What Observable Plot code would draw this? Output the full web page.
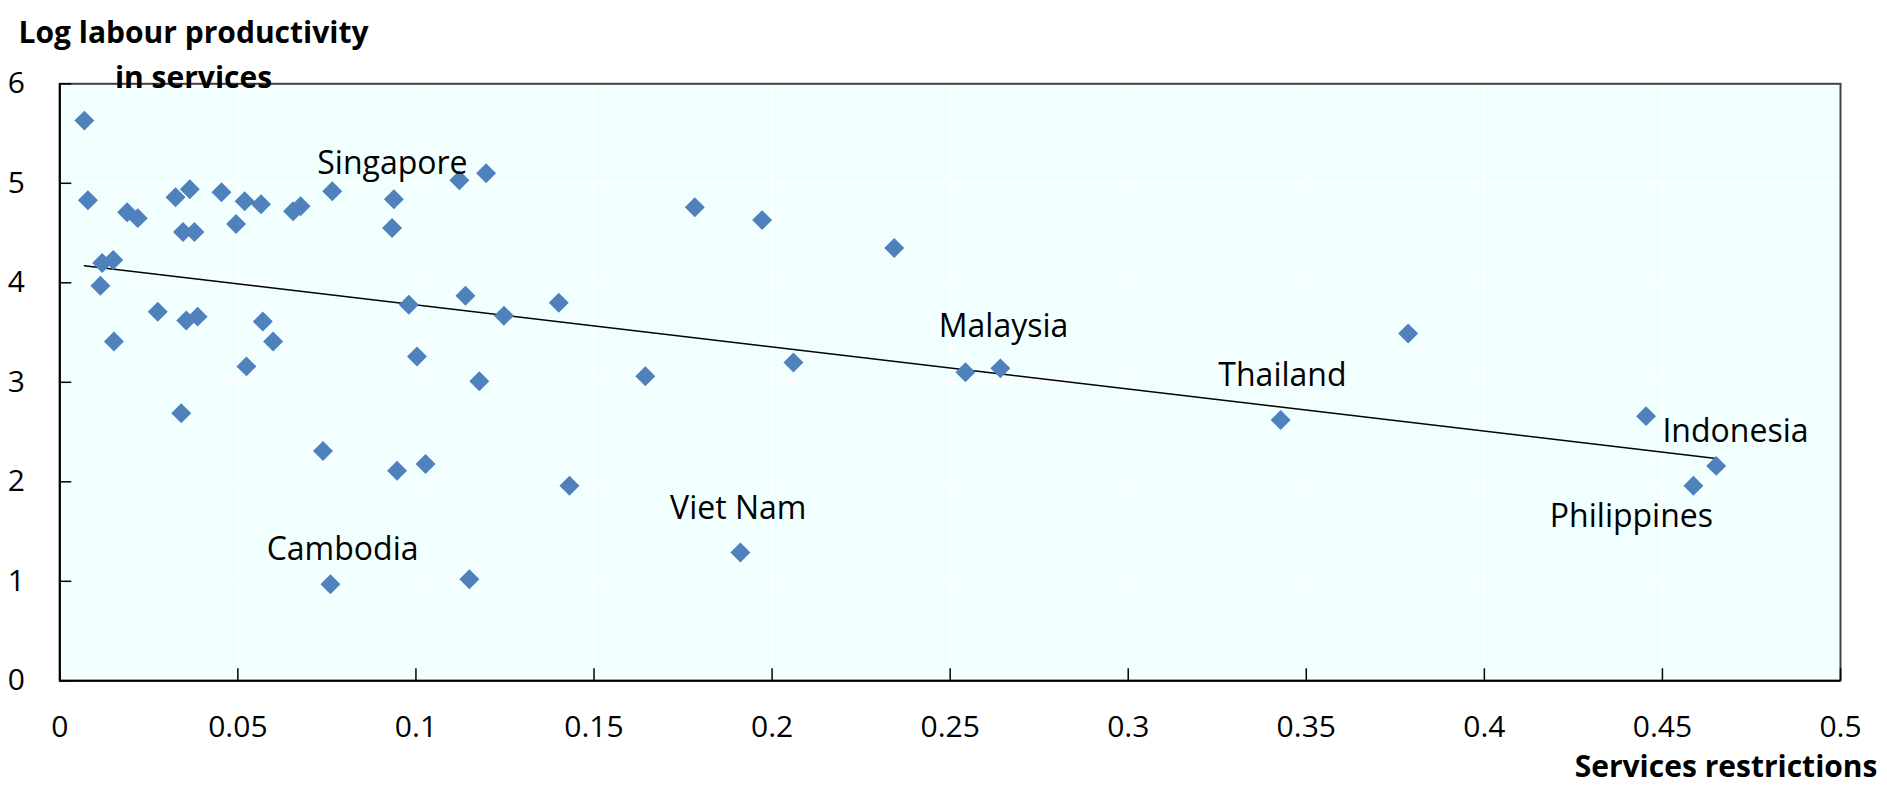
<!DOCTYPE html>
<html>
<head>
<meta charset="utf-8">
<script src="https://cdn.jsdelivr.net/npm/d3@7"></script>
<script src="https://cdn.jsdelivr.net/npm/@observablehq/plot@0.6"></script>
<style>
  html, body { margin: 0; padding: 0; background: #ffffff; }
</style>
</head>
<body>
<div id="chart"></div>
<script>
// Services restrictions index (x) for each economy
const restrictions = [
  0.0069, 0.0079, 0.0189, 0.0219, 0.0325, 0.0365, 0.0454, 0.0519, 0.0565, 0.0495,
  0.0346, 0.0378, 0.0655, 0.0676, 0.0765, 0.0938, 0.0933, 0.1122, 0.1197, 0.0119,
  0.0150, 0.0114, 0.0275, 0.0355, 0.0387, 0.0152, 0.0570, 0.0599, 0.0524, 0.0341,
  0.0980, 0.1139, 0.1003, 0.1178, 0.1247, 0.0739, 0.0947, 0.1027, 0.1431, 0.0760,
  0.1150, 0.1911, 0.1401, 0.1644, 0.1783, 0.1972, 0.2060, 0.2343, 0.2543, 0.2641,
  0.3428, 0.3786, 0.4454, 0.4651, 0.4587
];
// Log labour productivity in services (y)
const productivity = [
  5.63, 4.83, 4.71, 4.65, 4.86, 4.94, 4.91, 4.82, 4.79, 4.59,
  4.51, 4.51, 4.72, 4.77, 4.92, 4.84, 4.55, 5.03, 5.10, 4.20,
  4.23, 3.97, 3.71, 3.62, 3.66, 3.41, 3.61, 3.41, 3.16, 2.69,
  3.78, 3.87, 3.26, 3.01, 3.67, 2.31, 2.11, 2.18, 1.96, 0.97,
  1.02, 1.29, 3.80, 3.06, 4.76, 4.63, 3.20, 4.35, 3.10, 3.14,
  2.62, 3.49, 2.66, 2.16, 1.96
];
// Country annotations
const labelNames = ["Singapore", "Cambodia", "Viet Nam", "Malaysia", "Thailand", "Indonesia", "Philippines"];
const labelX = [0.0934, 0.0794, 0.1905, 0.265, 0.3433, 0.4705, 0.4413];
const labelY = [5.20, 1.32, 1.73, 3.56, 3.07, 2.50, 1.645];
// Axis ticks
const xTicks = [0, 0.05, 0.1, 0.15, 0.2, 0.25, 0.3, 0.35, 0.4, 0.45, 0.5];
const xTickLabels = ["0", "0.05", "0.1", "0.15", "0.2", "0.25", "0.3", "0.35", "0.4", "0.45", "0.5"];
const yTicks = [0, 1, 2, 3, 4, 5, 6];
const yTickLabels = ["0", "1", "2", "3", "4", "5", "6"];
const yTitle = "Log labour productivity\nin services";
const xTitle = "Services restrictions";

const points = restrictions.map((x, i) => ({x, y: productivity[i]}));
const labels = labelNames.map((name, i) => ({name, x: labelX[i], y: labelY[i]}));

const W = 1887, H = 786;
const mL = 59.3, mR = 47, mT = 83.3, mB = 105.7;

const chart = Plot.plot({
  width: W,
  height: H,
  marginLeft: mL,
  marginRight: mR,
  marginTop: mT,
  marginBottom: mB,
  style: {fontFamily: "'Open Sans', sans-serif", background: "#ffffff", color: "#000000", overflow: "visible"},
  x: {domain: [0, 0.5], ticks: xTicks, label: null},
  y: {domain: [0, 6], ticks: yTicks, label: null},
  marks: [
    Plot.frame({fill: "#f2ffff"}),
    Plot.gridX(xTicks, {stroke: "#ffffff", strokeOpacity: 1, strokeWidth: 1.5}),
    Plot.gridY(yTicks, {stroke: "#ffffff", strokeOpacity: 1, strokeWidth: 1.5}),
    Plot.frame({stroke: "#404040", strokeWidth: 2}),
    Plot.ruleX([0], {stroke: "#000000", strokeWidth: 2}),
    Plot.ruleY([0], {stroke: "#000000", strokeWidth: 2}),
    // inward ticks
    Plot.axisX(xTicks, {anchor: "bottom", tickSize: -12, tickFormat: () => "", stroke: "#000000", strokeWidth: 1.5, label: null}),
    Plot.axisY(yTicks, {anchor: "left", tickSize: -12, tickFormat: () => "", stroke: "#000000", strokeWidth: 1.5, label: null}),
    // tick labels
    Plot.axisX(xTicks, {anchor: "bottom", tickSize: 0, tickPadding: 35, fontSize: 30,
      tickFormat: d => xTickLabels[xTicks.indexOf(d)], fill: "#000000", label: null}),
    Plot.axisY(yTicks, {anchor: "left", tickSize: 0, tickPadding: 35, fontSize: 30,
      tickFormat: d => yTickLabels[yTicks.indexOf(d)], fill: "#000000", label: null}),
    // regression line
    Plot.linearRegressionY(points, {x: "x", y: "y", stroke: "#000000", strokeWidth: 1.4, ci: 0}),
    // points
    Plot.dot(points, {x: "x", y: "y", symbol: "diamond2", r: 9, fill: "#4f81bd", stroke: "none"}),
    // country labels
    Plot.text(labels, {x: "x", y: "y", text: "name", fontSize: 32, fill: "#000000", textAnchor: "middle"}),
    // axis titles
    Plot.text([yTitle], {frameAnchor: "top-left", dx: 133.7, dy: -73, lineAnchor: "top", lineHeight: 1.5,
      textAnchor: "middle", fontSize: 30, fontWeight: "bold", fill: "#000000"}),
    Plot.text([xTitle], {frameAnchor: "bottom-right", dx: 37, dy: 75, lineAnchor: "top",
      textAnchor: "end", fontSize: 30, fontWeight: "bold", fill: "#000000"})
  ]
});
document.getElementById("chart").appendChild(chart);
</script>
</body>
</html>
